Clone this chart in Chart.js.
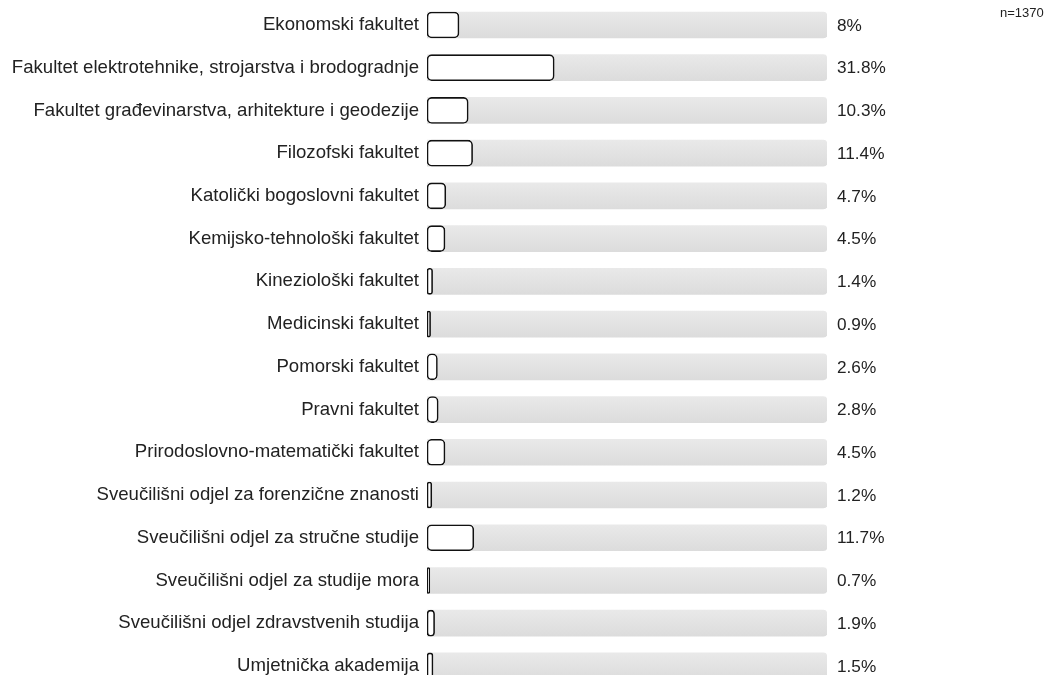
<!DOCTYPE html>
<html>
<head>
<meta charset="utf-8">
<script src="https://cdn.jsdelivr.net/npm/chart.js@4"></script>
<style>
    html, body { margin: 0; padding: 0; background: #fff; overflow: hidden; }
    #wrap { position: relative; width: 1056px; height: 690px; }
    #count { position: absolute; left: 1000px; top: 5px; font: 13px "Liberation Sans", Arial, sans-serif; color: #222; }
</style>
</head>
<body>
<div id="wrap">
    <canvas id="barChart" width="1056" height="690"></canvas>
    <div id="count">n=1370</div>
</div>
<script>
'use strict';

var categories = [
    'Ekonomski fakultet',
    'Fakultet elektrotehnike, strojarstva i brodogradnje',
    'Fakultet građevinarstva, arhitekture i geodezije',
    'Filozofski fakultet',
    'Katolički bogoslovni fakultet',
    'Kemijsko-tehnološki fakultet',
    'Kineziološki fakultet',
    'Medicinski fakultet',
    'Pomorski fakultet',
    'Pravni fakultet',
    'Prirodoslovno-matematički fakultet',
    'Sveučilišni odjel za forenzične znanosti',
    'Sveučilišni odjel za stručne studije',
    'Sveučilišni odjel za studije mora',
    'Sveučilišni odjel zdravstvenih studija',
    'Umjetnička akademija'
];
var percentages = [8, 31.8, 10.3, 11.4, 4.7, 4.5, 1.4, 0.9, 2.6, 2.8, 4.5, 1.2, 11.7, 0.7, 1.9, 1.5];
var fullScale = [];
for (var k = 0; k < categories.length; k++) {
    fullScale[k] = 100;
}

var fontFamily = '"Liberation Sans", Arial, sans-serif';

function greyGradient(context) {
    var chart = context.chart;
    var yScale = chart.scales.y;
    if (!chart.chartArea || !yScale || context.dataIndex === undefined) {
        return '#e4e4e4';
    }
    var center = yScale.getPixelForValue(context.dataIndex);
    if (!isFinite(center)) {
        return '#e4e4e4';
    }
    var g = chart.ctx.createLinearGradient(0, center - 13, 0, center + 13);
    g.addColorStop(0, '#e9e9e9');
    g.addColorStop(1, '#dcdcdc');
    return g;
}

// percentage text right of the grey track
var valueLabels = {
    id: 'valueLabels',
    afterDatasetsDraw: function (chart) {
        var ctx = chart.ctx;
        var meta = chart.getDatasetMeta(0);
        ctx.save();
        ctx.font = '17.2px ' + fontFamily;
        ctx.fillStyle = '#222';
        ctx.textAlign = 'left';
        ctx.textBaseline = 'middle';
        for (var i = 0; i < meta.data.length; i++) {
            ctx.fillText(percentages[i] + '%', chart.chartArea.right + 10, meta.data[i].y + 1);
        }
        ctx.restore();
    }
};

var ctx = document.getElementById('barChart').getContext('2d');
var barChart = new Chart(ctx, {
    type: 'bar',
    data: {
        labels: categories,
        datasets: [{
            data: percentages,
            backgroundColor: '#ffffff',
            borderColor: '#111111',
            borderWidth: 1.6,
            borderSkipped: false,
            borderRadius: 5,
            barThickness: 26,
            grouped: false
        }, {
            data: fullScale,
            backgroundColor: greyGradient,
            borderWidth: 0,
            borderRadius: 4,
            barThickness: 26,
            grouped: false
        }]
    },
    options: {
        indexAxis: 'y',
        responsive: false,
        animation: false,
        layout: {
            padding: { top: 3.6, bottom: 2.7, left: 0, right: 229 }
        },
        plugins: {
            legend: { display: false },
            tooltip: { enabled: false }
        },
        scales: {
            x: {
                display: false,
                min: 0,
                max: 100
            },
            y: {
                grid: { display: false, drawTicks: false },
                border: { display: false },
                ticks: {
                    padding: 8,
                    color: '#222',
                    font: { family: fontFamily, size: 18.6 }
                },
                afterFit: function (scale) {
                    scale.width = 427;
                    scale.paddingTop = 0;
                    scale.paddingBottom = 0;
                }
            }
        }
    },
    plugins: [valueLabels]
});
</script>
</body>
</html>
